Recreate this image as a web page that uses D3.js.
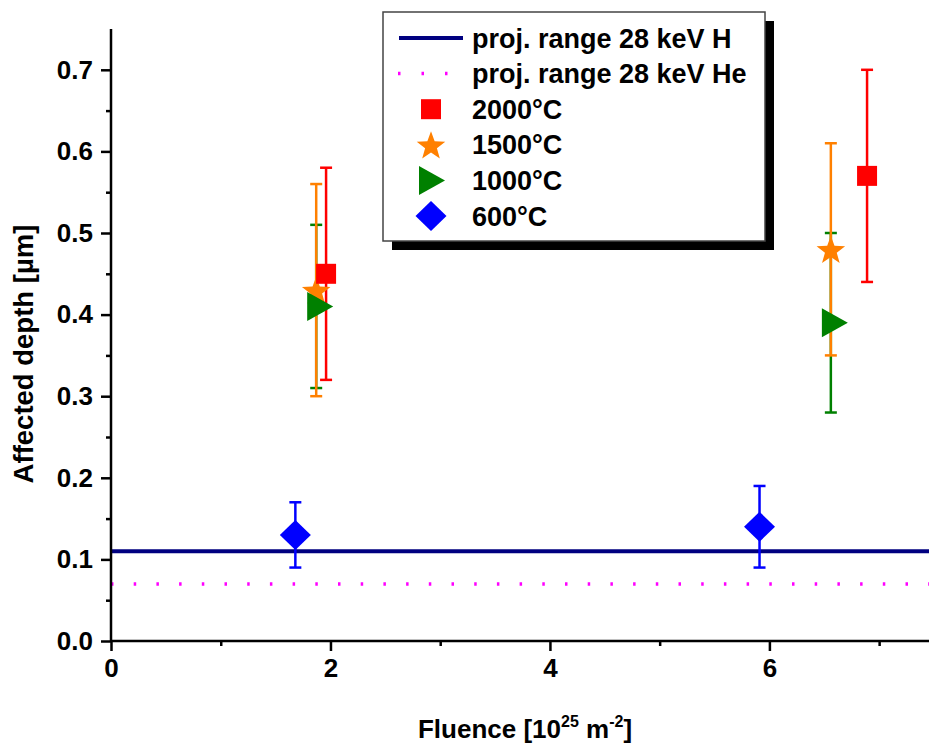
<!DOCTYPE html>
<html>
<head>
<meta charset="utf-8">
<script src="https://cdn.jsdelivr.net/npm/d3@7"></script>
<style>
  body { margin: 0; background: #fff; }
  text { font-family: 'Liberation Sans', Arial, sans-serif; font-weight: bold; }
</style>
</head>
<body>
<div class="chart"></div>
<script>
const svgWidth = 929;
const svgHeight = 749;

// series values: [fluence, depth, lower, upper]
const series2000 = [[1.96, 0.45, 0.32, 0.58], [6.89, 0.57, 0.44, 0.70]];
const series1500 = [[1.87, 0.43, 0.30, 0.56], [6.56, 0.48, 0.35, 0.61]];
const series1000 = [[1.87, 0.41, 0.31, 0.51], [6.56, 0.39, 0.28, 0.50]];
const series600 = [[1.68, 0.13, 0.09, 0.17], [5.91, 0.14, 0.09, 0.19]];

const rangeH = 0.11;
const rangeHe = 0.07;

const xTicks = [0, 2, 4, 6];
const xMinorTicks = [1, 3, 5, 7];
const yTicks = [0, 0.1, 0.2, 0.3, 0.4, 0.5, 0.6, 0.7];
const yMinorTicks = [0.05, 0.15, 0.25, 0.35, 0.45, 0.55, 0.65];

const legendLabels = ['proj. range 28 keV H', 'proj. range 28 keV He', '2000°C', '1500°C', '1000°C', '600°C'];

const colors = {
  h: '#000080',
  he: '#ff00ff',
  c2000: '#ff0000',
  c1500: '#ff8000',
  c1000: '#008000',
  c600: '#0000ff'
};

const margin = { top: 29, right: -5, bottom: 108, left: 111 };
const width = svgWidth - margin.left - margin.right;
const height = svgHeight - margin.top - margin.bottom;

const svg = d3.select('.chart')
  .append('svg')
  .attr('width', svgWidth)
  .attr('height', svgHeight);

const chartGroup = svg.append('g')
  .attr('transform', `translate(${margin.left}, ${margin.top})`);

const xScale = d3.scaleLinear().domain([0, 7.5]).range([0, width]);
const yScale = d3.scaleLinear().domain([0, 0.75]).range([height, 0]);

// marker shapes
const starPath = (() => {
  const pts = [];
  for (let i = 0; i < 10; i++) {
    const r = i % 2 === 0 ? 15 : 6.2;
    const a = -Math.PI / 2 + i * Math.PI / 5;
    pts.push([r * Math.cos(a), r * Math.sin(a) + 1.5]);
  }
  return 'M' + pts.map(p => p.join(',')).join('L') + 'Z';
})();
const shapes = {
  square: 'M-10,-10L10,-10L10,10L-10,10Z',
  star: starPath,
  triangle: 'M-9,-14.5L17,0L-9,14.5Z',
  diamond: 'M0,-15L15.5,0L0,15L-15.5,0Z'
};

// reference lines
chartGroup.append('line')
  .attr('x1', 0).attr('x2', width)
  .attr('y1', yScale(rangeHe)).attr('y2', yScale(rangeHe))
  .attr('stroke', colors.he)
  .attr('stroke-width', 3.5)
  .attr('stroke-dasharray', '2.5,20.2');
chartGroup.append('line')
  .attr('x1', 0).attr('x2', width)
  .attr('y1', yScale(rangeH)).attr('y2', yScale(rangeH))
  .attr('stroke', colors.h)
  .attr('stroke-width', 4);

// axes
const xAxis = chartGroup.append('g')
  .attr('transform', `translate(0, ${height})`)
  .call(d3.axisBottom(xScale).tickValues(xTicks).tickFormat(d3.format('d')).tickSize(10).tickPadding(8));
chartGroup.append('g')
  .attr('transform', `translate(0, ${height})`)
  .call(d3.axisBottom(xScale).tickValues(xMinorTicks).tickFormat('').tickSize(5))
  .select('.domain').remove();
const yAxis = chartGroup.append('g')
  .call(d3.axisLeft(yScale).tickValues(yTicks).tickFormat(d3.format('.1f')).tickSize(10).tickPadding(8));
chartGroup.append('g')
  .call(d3.axisLeft(yScale).tickValues(yMinorTicks).tickFormat('').tickSize(5))
  .select('.domain').remove();

chartGroup.selectAll('.domain, .tick line')
  .attr('stroke', '#000')
  .attr('stroke-width', 2.5);
// plain axis lines without outer ticks
xAxis.select('.domain').attr('d', `M0,0H${width}`);
yAxis.select('.domain').attr('d', `M0,${height}V0`);
chartGroup.selectAll('.tick text')
  .attr('font-size', 26)
  .attr('font-family', "'Liberation Sans', Arial, sans-serif")
  .attr('font-weight', 'bold')
  .attr('fill', '#000');

// axis titles
svg.append('text')
  .attr('transform', 'translate(33, 354) rotate(-90)')
  .attr('text-anchor', 'middle')
  .attr('font-size', 27.5)
  .text('Affected depth [µm]');

const xTitle = svg.append('text')
  .attr('x', margin.left + 414)
  .attr('y', 738)
  .attr('text-anchor', 'middle')
  .attr('font-size', 26);
xTitle.append('tspan').text('Fluence [10');
xTitle.append('tspan').attr('font-size', 16).attr('dy', -11).text('25');
xTitle.append('tspan').attr('dy', 11).text(' m');
xTitle.append('tspan').attr('font-size', 16).attr('dy', -11).text('-2');
xTitle.append('tspan').attr('dy', 11).text(']');

// error bars then markers
const groups = [
  { data: series1000, color: colors.c1000, shape: 'triangle' },
  { data: series1500, color: colors.c1500, shape: 'star' },
  { data: series2000, color: colors.c2000, shape: 'square' },
  { data: series600, color: colors.c600, shape: 'diamond' }
];

groups.forEach(g => {
  const bars = chartGroup.append('g')
    .selectAll('g')
    .data(g.data)
    .enter()
    .append('g')
    .attr('stroke', g.color)
    .attr('stroke-width', 2.5);
  bars.append('line')
    .attr('x1', d => xScale(d[0])).attr('x2', d => xScale(d[0]))
    .attr('y1', d => yScale(d[2])).attr('y2', d => yScale(d[3]));
  bars.append('line')
    .attr('x1', d => xScale(d[0]) - 6).attr('x2', d => xScale(d[0]) + 6)
    .attr('y1', d => yScale(d[2])).attr('y2', d => yScale(d[2]));
  bars.append('line')
    .attr('x1', d => xScale(d[0]) - 6).attr('x2', d => xScale(d[0]) + 6)
    .attr('y1', d => yScale(d[3])).attr('y2', d => yScale(d[3]));
});

[groups[1], groups[0], groups[2], groups[3]].forEach(g => {
  chartGroup.append('g')
    .selectAll('path')
    .data(g.data)
    .enter()
    .append('path')
    .attr('d', shapes[g.shape])
    .attr('transform', d => `translate(${xScale(d[0])}, ${yScale(d[1])})`)
    .attr('fill', g.color);
});

// legend
const legend = svg.append('g').attr('transform', 'translate(383, 12)');
legend.append('rect')
  .attr('x', 9).attr('y', 9)
  .attr('width', 382).attr('height', 229)
  .attr('fill', '#000');
legend.append('rect')
  .attr('width', 382).attr('height', 229)
  .attr('fill', '#fff')
  .attr('stroke', '#444')
  .attr('stroke-width', 1.5);

const rowY = i => 26 + i * 35.6;
legend.append('line')
  .attr('x1', 16).attr('x2', 80)
  .attr('y1', rowY(0)).attr('y2', rowY(0))
  .attr('stroke', colors.h).attr('stroke-width', 4);
legend.append('line')
  .attr('x1', 15).attr('x2', 80)
  .attr('y1', rowY(1)).attr('y2', rowY(1))
  .attr('stroke', colors.he).attr('stroke-width', 3.5)
  .attr('stroke-dasharray', '2.5,21');

// order in legend: 2000, 1500, 1000, 600
const legendMarkers = [groups[2], groups[1], groups[0], groups[3]];
legendMarkers.forEach((g, i) => {
  legend.append('path')
    .attr('d', shapes[g.shape])
    .attr('transform', `translate(${g.shape === 'triangle' ? 45 : 48}, ${rowY(i + 2)})`)
    .attr('fill', g.color);
});

legend.selectAll('text.label')
  .data(legendLabels)
  .enter()
  .append('text')
  .attr('class', 'label')
  .attr('x', 89)
  .attr('y', (d, i) => rowY(i) + 9.5)
  .attr('font-size', 27)
  .text(d => d);
</script>
</body>
</html>
